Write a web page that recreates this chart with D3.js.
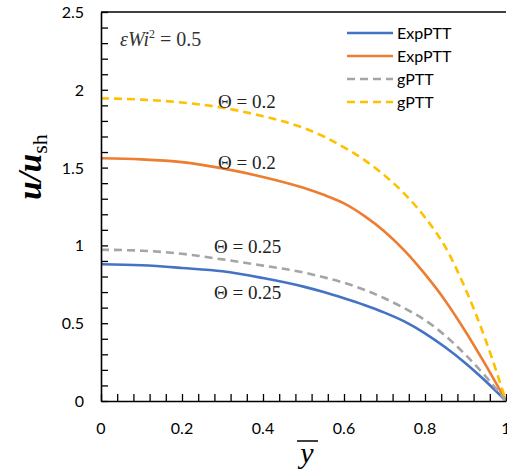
<!DOCTYPE html>
<html>
<head>
<meta charset="utf-8">
<script src="https://cdn.jsdelivr.net/npm/d3@7"></script>
<style>
  body { margin: 0; background: #fff; }
  svg { display: block; }
  .tick-label { font-family: Lato, "Liberation Sans", sans-serif; font-size: 16px; fill: #000; }
  .legend-text { font-family: Lato, "Liberation Sans", sans-serif; font-size: 16px; fill: #000; }
  .serif { font-family: "Liberation Serif", "DejaVu Serif", serif; }
</style>
</head>
<body>
<svg id="svg"></svg>
<script>
// values
const ybar = [0, 0.1, 0.2, 0.3, 0.4, 0.5, 0.55, 0.6, 0.65, 0.7, 0.75, 0.8, 0.85, 0.9, 0.95, 1];
const expPTT_025 = [0.879, 0.872, 0.855, 0.834, 0.79, 0.735, 0.70, 0.66, 0.617, 0.568, 0.51, 0.435, 0.345, 0.243, 0.127, 0];
const expPTT_02  = [1.56, 1.553, 1.535, 1.495, 1.44, 1.37, 1.325, 1.27, 1.19, 1.09, 0.965, 0.815, 0.645, 0.447, 0.23, 0];
const gPTT_025   = [0.972, 0.966, 0.946, 0.91, 0.87, 0.826, 0.795, 0.76, 0.715, 0.66, 0.595, 0.52, 0.42, 0.297, 0.157, 0];
const gPTT_02    = [1.945, 1.937, 1.918, 1.885, 1.83, 1.755, 1.70, 1.63, 1.55, 1.45, 1.33, 1.18, 0.99, 0.72, 0.39, 0];

const seriesNames = ["ExpPTT", "ExpPTT", "gPTT", "gPTT"];
const seriesColors = ["#4472C4", "#ED7D31", "#A5A5A5", "#FFC000"];
const seriesDash = [null, null, "8,5", "8,5"];
const seriesValues = [expPTT_025, expPTT_02, gPTT_025, gPTT_02];

const xTicks = [0, 0.2, 0.4, 0.6, 0.8, 1];
const yTicks = [0, 0.5, 1, 1.5, 2, 2.5];

const w = 507;
const h = 470;
const plotLeft = 101, plotRight = 506, plotTop = 12, plotBottom = 401;

let svg = d3.select("#svg")
            .attr("width", w)
            .attr("height", h);

const xScale = d3.scaleLinear().domain([0, 1]).range([plotLeft, plotRight]);
const yScale = d3.scaleLinear().domain([0, 2.5]).range([plotBottom, plotTop]);

// curves
const line = d3.line()
               .x(d => xScale(d[0]))
               .y(d => yScale(d[1]))
               .curve(d3.curveMonotoneX);

seriesValues.forEach((vals, i) => {
  svg.append("path")
     .datum(ybar.map((y, j) => [y, vals[j]]))
     .attr("d", line)
     .attr("fill", "none")
     .attr("stroke", seriesColors[i])
     .attr("stroke-width", 2.6)
     .attr("stroke-dasharray", seriesDash[i]);
});

// frame: top border and axes
svg.append("line")
   .attr("x1", plotLeft).attr("x2", plotRight)
   .attr("y1", plotTop).attr("y2", plotTop)
   .attr("stroke", "#000").attr("stroke-width", 1.3);

// x axis with inward ticks
const xAxis = d3.axisBottom(xScale)
                .tickValues(d3.range(0, 1.0001, 0.04))
                .tickSizeInner(-7)
                .tickSizeOuter(0)
                .tickFormat("");
svg.append("g")
   .attr("transform", "translate(0," + plotBottom + ")")
   .call(xAxis)
   .call(g => g.selectAll("line").attr("stroke-width", 1.3))
   .call(g => g.select(".domain").attr("stroke-width", 1.6));

const yAxis = d3.axisLeft(yScale)
                .tickValues(d3.range(0, 2.5001, 0.1))
                .tickSizeInner(-7)
                .tickSizeOuter(0)
                .tickFormat("");
svg.append("g")
   .attr("transform", "translate(" + plotLeft + ",0)")
   .call(yAxis)
   .call(g => g.selectAll("line").attr("stroke-width", 1.3))
   .call(g => g.select(".domain").attr("stroke-width", 1.6));

// tick labels
svg.selectAll(".xlab")
   .data(xTicks)
   .enter()
   .append("text")
   .attr("class", "tick-label")
   .attr("x", d => xScale(d))
   .attr("y", 434)
   .attr("text-anchor", "middle")
   .text(d => d3.format("")(d));

svg.selectAll(".ylab")
   .data(yTicks)
   .enter()
   .append("text")
   .attr("class", "tick-label")
   .attr("x", 84)
   .attr("y", d => yScale(d) + 6)
   .attr("text-anchor", "end")
   .text(d => d3.format("")(d));

// legend
seriesNames.forEach((name, i) => {
  let ly = 33 + i * 23;
  svg.append("line")
     .attr("x1", 347).attr("x2", 393)
     .attr("y1", ly).attr("y2", ly)
     .attr("stroke", seriesColors[i])
     .attr("stroke-width", 2.6)
     .attr("stroke-dasharray", seriesDash[i]);
  svg.append("text")
     .attr("class", "legend-text")
     .attr("x", 397)
     .attr("y", ly + 6)
     .text(name);
});

// annotations
let ann = svg.append("text")
             .attr("class", "serif")
             .attr("x", 120)
             .attr("y", 46)
             .attr("font-size", "20px")
             .attr("fill", "#333");
ann.append("tspan").attr("font-style", "italic").text("εWi");
ann.append("tspan").attr("font-size", "12px").attr("dy", -8).text("2");
ann.append("tspan").attr("dy", 8).text(" = 0.5");

const thetaLabels = [
  { text: "Θ = 0.2", x: 218, y: 108 },
  { text: "Θ = 0.2", x: 218, y: 169 },
  { text: "Θ = 0.25", x: 214, y: 253 },
  { text: "Θ = 0.25", x: 214, y: 299 }
];
svg.selectAll(".theta")
   .data(thetaLabels)
   .enter()
   .append("text")
   .attr("class", "serif")
   .attr("x", d => d.x)
   .attr("y", d => d.y)
   .attr("font-size", "19px")
   .attr("fill", "#222")
   .text(d => d.text);

// axis titles
let yt = svg.append("text")
            .attr("class", "serif")
            .attr("transform", "translate(41,167) rotate(-90)")
            .attr("text-anchor", "middle")
            .attr("font-size", "33px")
            .attr("font-style", "italic")
            .attr("font-weight", "bold");
yt.append("tspan").text("u/u");
yt.append("tspan").attr("font-size", "22px").attr("font-style", "normal").attr("font-weight", "normal").attr("dy", 6).text("sh");

svg.append("text")
   .attr("class", "serif")
   .attr("x", 307)
   .attr("y", 463)
   .attr("text-anchor", "middle")
   .attr("font-size", "30px")
   .attr("font-style", "italic")
   .text("y");
svg.append("line")
   .attr("x1", 297).attr("x2", 318)
   .attr("y1", 441).attr("y2", 441)
   .attr("stroke", "#000").attr("stroke-width", 1.5);
</script>
</body>
</html>
